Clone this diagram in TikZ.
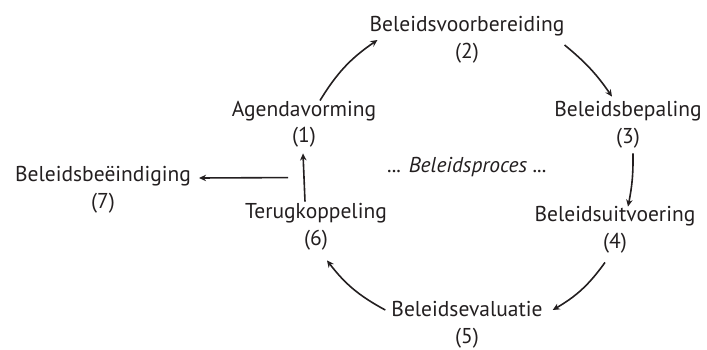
\documentclass[tikz,border=0pt]{standalone}
\usepackage{fontspec}
\setmainfont{PT Sans}
\usetikzlibrary{arrows.meta}
\definecolor{ink}{HTML}{231F20}
\tikzset{
  stage/.style={align=center, inner sep=0pt, text=ink,
    font=\fontsize{21.5}{26.5}\selectfont},
  flow/.style={draw=ink, line width=1.6pt,
    -{Stealth[length=7pt,width=6.5pt]}}
}
\begin{document}
\begin{tikzpicture}[x=1pt,y=1pt]
\useasboundingbox (0,0) rectangle (707,349);

% stages of the policy cycle
\node[stage] (n1) at (304,225) {Agendavorming\\(1)};
\node[stage] (n2) at (467,309) {Beleidsvoorbereiding\\(2)};
\node[stage] (n3) at (628,224) {Beleidsbepaling\\(3)};
\node[stage] (n4) at (615,119) {Beleidsuitvoering\\(4)};
\node[stage] (n5) at (467,24)  {Beleidsevaluatie\\(5)};
\node[stage] (n6) at (316,122) {Terugkoppeling\\(6)};
\node[stage] (n7) at (103,159) {Beleidsbeëindiging\\(7)};
\node[stage, font=\fontsize{21.5}{26.5}\selectfont\itshape] (proc) at (467,182) {... Beleidsproces ...};

% cycle arrows
\draw[flow] ([xshift=16]n1.north) to[bend left=12] ([xshift=8]n2.west);
\draw[flow] ([yshift=-5]n2.east) to[bend left=8] ([shift={(-16,5)}]n3.north);
\draw[flow] ([shift={(5,-5)}]n3.south) to[bend left=6] ([xshift=13]n4.north);
\draw[flow] ([shift={(-10,-9)}]n4.south) to[bend left=12] ([shift={(10,15)}]n5.east);
\draw[flow] ([shift={(-6,15)}]n5.west) to[bend left=12] ([shift={(11,-10)}]n6.south);
\draw[flow] ([shift={(-11,2)}]n6.north) -- ([shift={(-1,-6)}]n1.south);

% exit to termination
\draw[flow] ([shift={(-28,26)}]n6.north) -- ([shift={(8,12)}]n7.east);
\end{tikzpicture}
\end{document}
